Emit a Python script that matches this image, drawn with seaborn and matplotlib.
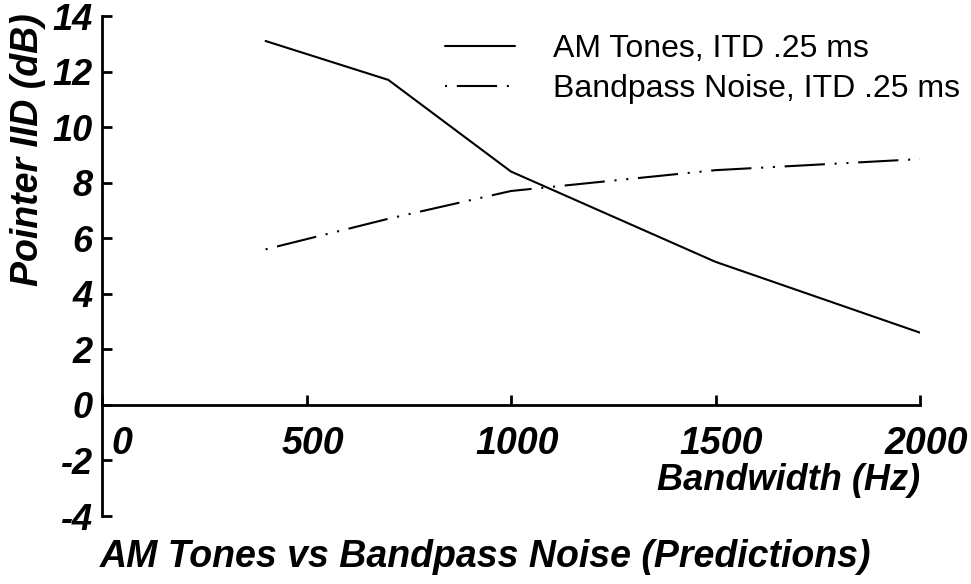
import matplotlib
matplotlib.use("Agg")
import matplotlib.pyplot as plt
import matplotlib.transforms as mtransforms
import seaborn as sns
import pandas as pd
from matplotlib.lines import Line2D

bandwidth = [400, 700, 1000, 1500, 2000]
am_tones = [13.1, 11.7, 8.4, 5.15, 2.6]
bandpass_noise = [5.6, 6.7, 7.7, 8.45, 8.85]
series_names = ["AM Tones, ITD .25 ms", "Bandpass Noise, ITD .25 ms"]
x_ticks = [0, 500, 1000, 1500, 2000]
y_ticks = [-4, -2, 0, 2, 4, 6, 8, 10, 12, 14]

sns.set_style("white")
plt.rcParams["font.family"] = ["Liberation Sans", "DejaVu Sans"]
plt.rcParams["lines.scale_dashes"] = False
plt.rcParams["text.color"] = "black"

df = pd.DataFrame({
    "bw": bandwidth * 2,
    "iid": am_tones + bandpass_noise,
    "series": [series_names[0]] * len(bandwidth) + [series_names[1]] * len(bandwidth),
})

dash_dot = (1.5, 7, 29, 7, 1.5, 7)

fig = plt.figure(figsize=(9.71, 5.84), dpi=100)
ax = fig.add_axes([102 / 971, 1 - 516 / 584, (920 - 102) / 971, (516 - 16) / 584])
sns.lineplot(data=df, x="bw", y="iid", style="series",
             dashes={series_names[0]: "", series_names[1]: dash_dot},
             color="black", linewidth=1.5, ax=ax, legend=False)

ax.set_xlim(0, 2000)
ax.set_ylim(-4, 14)
ax.set_xticks(x_ticks)
ax.set_yticks(y_ticks)
ax.spines["top"].set_visible(False)
ax.spines["right"].set_visible(False)
ax.spines["bottom"].set_position(("data", 0))
for s in ("left", "bottom"):
    ax.spines[s].set_linewidth(2)
    ax.spines[s].set_color("black")
ax.tick_params(axis="x", bottom=True, direction="in", length=7, width=2, pad=15,
               colors="black")
ax.tick_params(axis="y", left=True, direction="in", length=7, width=2, pad=7,
               colors="black")
ax.set_xticklabels([str(v) for v in x_ticks], fontsize=27, fontweight="bold",
                   fontstyle="italic")
ax.set_yticklabels([str(v) for v in y_ticks], fontsize=26, fontweight="bold",
                   fontstyle="italic")
for i, lab in enumerate(ax.get_xticklabels()):
    dx = 20 if i == 0 else 6
    lab.set_transform(lab.get_transform() +
                      mtransforms.ScaledTranslation(dx / 100, 0, fig.dpi_scale_trans))
ax.set_xlabel("")
ax.set_ylabel("")

fig.text(920 / 971, 1 - 480 / 584, "Bandwidth (Hz)", ha="right", va="center",
         fontsize=26, fontweight="bold", fontstyle="italic")
fig.text(28 / 971, 1 - 13 / 584, "Pointer IID (dB)", ha="center", va="top",
         rotation=90, fontsize=27, fontweight="bold", fontstyle="italic")
fig.text(100 / 971, 1 - 557 / 584, "AM Tones vs Bandpass Noise (Predictions)",
         ha="left", va="center", fontsize=27, fontweight="bold", fontstyle="italic")

handles = [Line2D([], [], color="black", lw=1.5),
           Line2D([], [], color="black", lw=1.5, dashes=dash_dot)]
fig.legend(handles, series_names, loc="upper left",
           bbox_to_anchor=(445 / 971, 1 - 34 / 584), frameon=False,
           fontsize=23, handlelength=2.19, handletextpad=1.19,
           borderpad=0, borderaxespad=0, labelspacing=0.32)

fig.savefig("out.png", dpi=100)
